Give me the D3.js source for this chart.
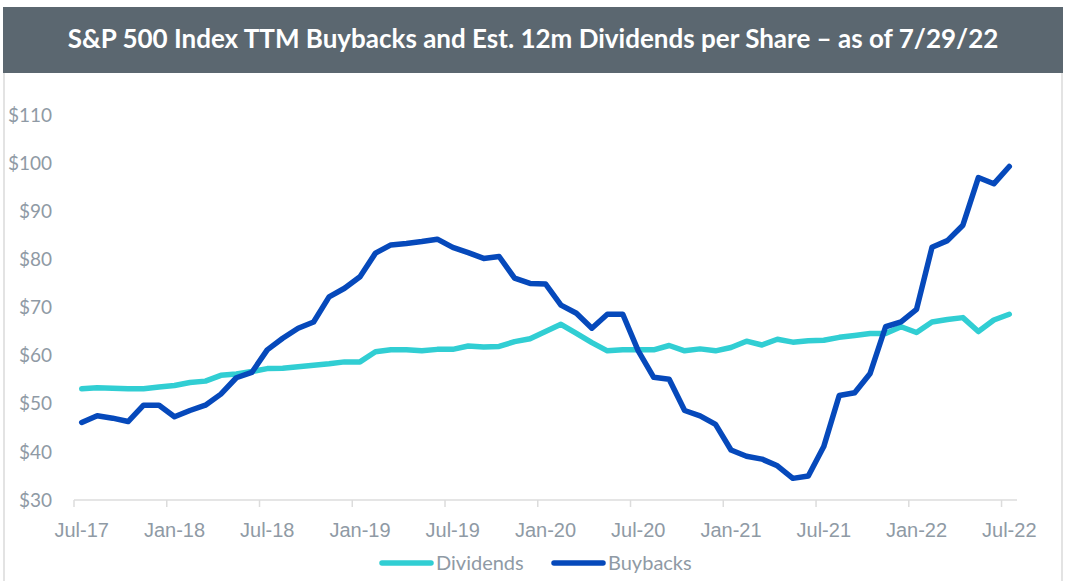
<!DOCTYPE html>
<html>
<head>
<meta charset="utf-8">
<script src="https://cdn.jsdelivr.net/npm/d3@7"></script>
<style>
  html, body { margin: 0; padding: 0; background: #fff; }
  svg { display: block; font-family: "Source Sans Pro", Lato, "Open Sans", sans-serif; }
</style>
</head>
<body>
<svg id="chart" width="1066" height="581"></svg>
<script>
// chart text
const title = 'S&P 500 Index TTM Buybacks and Est. 12m Dividends per Share \u2013 as of 7/29/22';
const seriesNames = ['Dividends', 'Buybacks'];

// monthly categories Jul-17 .. Jul-22 (61 months)
const months = d3.timeMonth.range(new Date(2017, 6, 1), new Date(2022, 7, 1));
const tickLabels = ['Jul-17', 'Jan-18', 'Jul-18', 'Jan-19', 'Jul-19', 'Jan-20',
  'Jul-20', 'Jan-21', 'Jul-21', 'Jan-22', 'Jul-22'];
const yTicks = [30, 40, 50, 60, 70, 80, 90, 100, 110];

// values, $ per share
const dividends = [
  53.1, 53.3, 53.2, 53.1, 53.1, 53.5, 53.8, 54.4, 54.7, 55.9, 56.2, 56.7,
  57.3, 57.4, 57.7, 58.0, 58.3, 58.7, 58.7, 60.8, 61.2, 61.2, 61.0, 61.3,
  61.3, 62.0, 61.8, 61.9, 62.9, 63.5, 65.0, 66.5, 64.6, 62.7, 61.0, 61.2,
  61.2, 61.2, 62.1, 61.0, 61.4, 61.0, 61.7, 63.0, 62.2, 63.4, 62.8, 63.1,
  63.2, 63.8, 64.2, 64.6, 64.6, 66.0, 64.8, 67.0, 67.5, 67.9, 65.0, 67.4,
  68.6
];
const buybacks = [
  46.1, 47.5, 47.0, 46.3, 49.7, 49.7, 47.3, 48.6, 49.7, 52.0, 55.4, 56.5,
  61.2, 63.6, 65.7, 67.0, 72.2, 74.0, 76.4, 81.3, 83.0, 83.3, 83.7, 84.2,
  82.5, 81.4, 80.2, 80.6, 76.1, 75.0, 74.9, 70.5, 68.8, 65.7, 68.6, 68.6,
  61.0, 55.5, 55.1, 48.6, 47.5, 45.7, 40.4, 39.1, 38.5, 37.1, 34.5, 35.0,
  41.1, 51.7, 52.3, 56.3, 66.0, 67.0, 69.6, 82.5, 83.9, 87.1, 97.0, 95.7,
  99.3
];

const colors = { Dividends: '#31ced3', Buybacks: '#0649bb' };
const textGray = '#8f9aa5';
const frameGray = '#e3e3e3';

const svg = d3.select('#chart');
const H = 581;

// outer frame
svg.append('line').attr('x1', 4).attr('x2', 4).attr('y1', 72).attr('y2', H)
  .attr('stroke', frameGray).attr('stroke-width', 2);
svg.append('line').attr('x1', 1062).attr('x2', 1062).attr('y1', 72).attr('y2', H)
  .attr('stroke', frameGray).attr('stroke-width', 2);

// title bar
svg.append('rect').attr('x', 3).attr('y', 7).attr('width', 1060).attr('height', 66)
  .attr('fill', '#5b6770');
const titleText = svg.append('text')
  .attr('x', 533).attr('y', 48)
  .attr('text-anchor', 'middle')
  .attr('fill', '#fff')
  .attr('font-weight', 700)
  .attr('font-size', 23)
  .text(title);
// fit the title to the width it has in the picture
const tw = titleText.node().getComputedTextLength();
titleText.attr('font-size', 23 * 931 / tw);

// scales
const x = d3.scaleBand().domain(d3.range(months.length)).range([74, 1017]);
const y = d3.scaleLinear().domain([30, 110]).range([500, 115]);
const cx = (i) => x(i) + x.bandwidth() / 2;

// y labels
svg.append('g').selectAll('text').data(yTicks).join('text')
  .attr('x', 52).attr('y', (d) => y(d))
  .attr('dy', '0.35em')
  .attr('text-anchor', 'end')
  .attr('fill', textGray)
  .attr('font-size', 19)
  .text((d) => '$' + d);

// x axis line and tick marks at category boundaries
svg.append('line').attr('x1', 74).attr('x2', 1017).attr('y1', 500).attr('y2', 500)
  .attr('stroke', '#dcdcdc').attr('stroke-width', 1.5);
const tickIdx = tickLabels.map((d, k) => k * 6);
svg.append('g').selectAll('line').data(tickIdx).join('line')
  .attr('x1', (i) => x(i)).attr('x2', (i) => x(i))
  .attr('y1', 500).attr('y2', 507)
  .attr('stroke', '#dcdcdc').attr('stroke-width', 1.5);

// x labels centred on the month
const xAxis = d3.axisBottom(x).tickValues(tickIdx).tickSize(0).tickPadding(0)
  .tickFormat((i) => tickLabels[i / 6]);
const gx = svg.append('g').attr('transform', 'translate(0,500)').call(xAxis);
gx.select('.domain').remove();
gx.selectAll('text')
  .attr('y', 37).attr('dy', 0)
  .attr('fill', textGray)
  .attr('font-size', 20)
  .attr('font-family', null);

// lines
const line = d3.line().x((d, i) => cx(i)).y((d) => y(d));
[['Dividends', dividends], ['Buybacks', buybacks]].forEach(([name, vals]) => {
  svg.append('path').datum(vals)
    .attr('d', line)
    .attr('fill', 'none')
    .attr('stroke', colors[name])
    .attr('stroke-width', 5.5)
    .attr('stroke-linejoin', 'round')
    .attr('stroke-linecap', 'round');
});

// legend
const legendX = { Dividends: 380, Buybacks: 552 };
seriesNames.forEach((name) => {
  const g = svg.append('g').attr('transform', `translate(${legendX[name]},563)`);
  g.append('line').attr('x1', 2).attr('x2', 51).attr('y1', 0).attr('y2', 0)
    .attr('stroke', colors[name]).attr('stroke-width', 5.5).attr('stroke-linecap', 'round');
  g.append('text').attr('x', 56).attr('y', 0).attr('dy', '0.35em')
    .attr('fill', textGray).attr('font-size', 20).text(name);
});
</script>
</body>
</html>
